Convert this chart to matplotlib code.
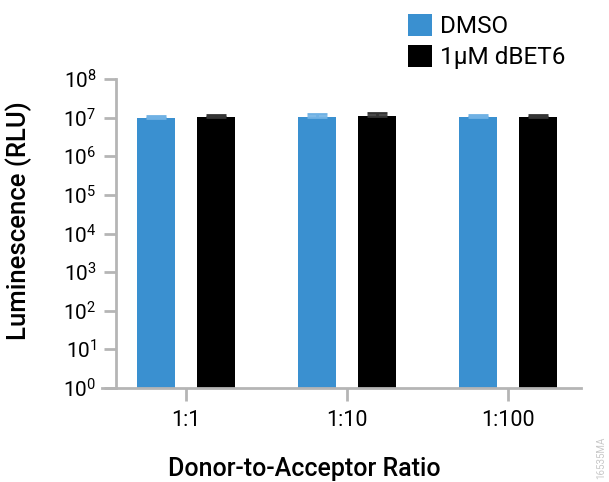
import numpy as np
import matplotlib
matplotlib.use("Agg")
import matplotlib.pyplot as plt
from matplotlib.patches import Patch
from matplotlib.ticker import LogLocator, NullLocator

plt.rcParams['font.family'] = ['Roboto', 'DejaVu Sans']
plt.rcParams['mathtext.fontset'] = 'custom'
plt.rcParams['mathtext.rm'] = 'Roboto'

# data
ratios = ["1:1", "1:10", "1:100"]
dmso = [0.98e7, 1.05e7, 1.05e7]
dmso_err = [0.15e7, 0.17e7, 0.15e7]
dbet6 = [1.03e7, 1.08e7, 1.05e7]
dbet6_err = [0.12e7, 0.22e7, 0.13e7]
series_names = ["DMSO", "1\u00b5M dBET6"]

BLUE = "#3a90d0"
BLUE_ERR = "#6fb1e4"
GREY = "#b5b5b5"

fig = plt.figure(figsize=(6.09, 4.82), dpi=100)
ax = fig.add_axes([116/609, 1-388/482, (581-116)/609, (388-79)/482])

x = np.arange(len(ratios))
w = 0.236
off = 0.186
ax.bar(x - off, dmso, width=w, color=BLUE, bottom=1,
       yerr=[np.zeros(3), dmso_err], ecolor=BLUE_ERR,
       error_kw=dict(capsize=7, elinewidth=2, capthick=2))
ax.bar(x + off, dbet6, width=w, color="black", bottom=1,
       yerr=[np.zeros(3), dbet6_err], ecolor="#333333",
       error_kw=dict(capsize=7, elinewidth=2, capthick=2))

ax.set_yscale("log")
ax.set_ylim(1, 1e8)
ax.set_xlim(-0.435, 2.453)
ax.yaxis.set_major_locator(LogLocator(base=10, numticks=10))
ax.yaxis.set_minor_locator(NullLocator())
ax.set_xticks(x)
ax.set_xticklabels(ratios)

for s in ["top", "right"]:
    ax.spines[s].set_visible(False)
for s in ["left", "bottom"]:
    ax.spines[s].set_color(GREY)
    ax.spines[s].set_linewidth(2)
ax.spines["bottom"].set_bounds(-0.52, 2.453)
ax.tick_params(axis="both", colors=GREY, width=2, length=9,
               labelcolor="black")
ax.tick_params(axis="y", pad=5, labelsize=15)
ax.tick_params(axis="x", pad=7, labelsize=15.5)

fig.text(19/609, 1-221/482, "Luminescence (RLU)", rotation=90, ha="center",
         va="center", fontsize=18.5, fontweight="medium")
fig.text(0.5, 1-469/482, "Donor-to-Acceptor Ratio", ha="center",
         va="center", fontsize=18, fontweight="medium")
fig.text(601/609, 1-458/482, "16535MA", rotation=90, ha="center",
         va="center", fontsize=7, color="#c8c8c8")

handles = [Patch(facecolor=BLUE), Patch(facecolor="black")]
fig.legend(handles, series_names, loc="upper left",
           bbox_to_anchor=(408/609, 1-14/482), frameon=False, fontsize=17.5,
           handlelength=1.0, handleheight=1.0, handletextpad=0.3,
           labelspacing=0.28, borderaxespad=0, borderpad=0)

fig.savefig("out.png", dpi=100)
